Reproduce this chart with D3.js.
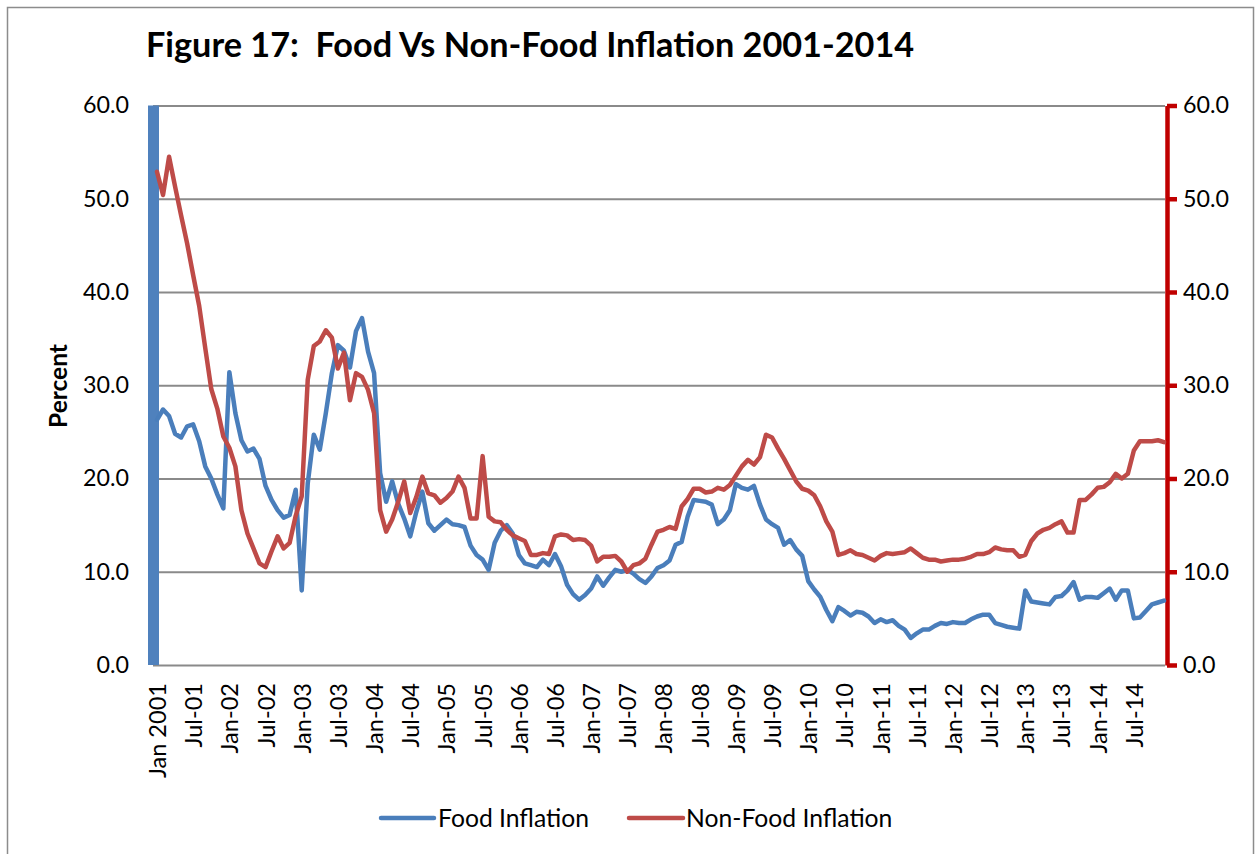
<!DOCTYPE html>
<html><head><meta charset="utf-8">
<script src="https://cdn.jsdelivr.net/npm/d3@7"></script>
<style>body{margin:0;background:#fff}svg{display:block}</style>
</head><body><svg id="chart" width="1255" height="854"></svg>
<script>
const xLabels = ["Jan 2001","Jul-01","Jan-02","Jul-02","Jan-03","Jul-03","Jan-04","Jul-04","Jan-05","Jul-05","Jan-06","Jul-06","Jan-07","Jul-07","Jan-08","Jul-08","Jan-09","Jul-09","Jan-10","Jul-10","Jan-11","Jul-11","Jan-12","Jul-12","Jan-13","Jul-13","Jan-14","Jul-14"];
const labelMonthIndex = [0,6,12,18,24,30,36,42,48,54,60,66,72,78,84,90,96,102,108,114,120,126,132,138,144,150,156,162];
const yTicks = [0,10,20,30,40,50,60];
const seriesNames = ["Food Inflation","Non-Food Inflation"];
const foodInflation = [
26.3,27.4,26.7,24.8,24.4,25.6,25.8,24.0,21.3,20.0,18.3,16.8,
31.4,27.0,24.1,22.9,23.2,22.1,19.2,17.7,16.6,15.8,16.1,18.8,
8.0,19.5,24.7,23.1,27.0,31.3,34.3,33.7,31.9,35.8,37.2,33.6,
31.3,20.6,17.5,19.7,17.3,15.7,13.8,16.4,18.6,15.2,14.4,15.0,
15.6,15.1,15.0,14.8,12.8,11.8,11.3,10.2,13.1,14.4,15.0,14.1,
11.8,10.9,10.7,10.5,11.3,10.7,11.9,10.6,8.6,7.6,7.0,7.5,
8.2,9.5,8.5,9.4,10.2,10.0,10.2,9.8,9.2,8.8,9.5,10.4,
10.7,11.2,12.9,13.2,15.9,17.7,17.6,17.5,17.2,15.1,15.6,16.6,
19.4,19.0,18.8,19.2,17.2,15.6,15.1,14.7,12.9,13.4,12.4,11.7,
9.0,8.1,7.3,5.9,4.7,6.2,5.8,5.3,5.7,5.6,5.2,4.5,
4.9,4.6,4.8,4.2,3.8,2.9,3.4,3.8,3.8,4.2,4.5,4.4,
4.6,4.5,4.5,4.9,5.2,5.4,5.4,4.5,4.3,4.1,4.0,3.9,
8.0,6.8,6.7,6.6,6.5,7.3,7.4,8.0,8.9,7.0,7.3,7.3,
7.2,7.7,8.2,7.0,8.0,8.0,5.0,5.1,5.8,6.5,6.7,6.9];
const nonFoodInflation = [
52.9,50.4,54.5,51.3,48.2,45.2,41.8,38.5,34.0,29.6,27.5,24.5,
23.3,21.3,16.6,14.1,12.5,10.9,10.5,12.2,13.8,12.5,13.1,16.0,
18.1,30.6,34.2,34.7,35.9,35.1,31.8,33.5,28.4,31.3,30.9,29.5,
27.0,16.6,14.3,15.6,17.5,19.7,16.3,18.0,20.2,18.4,18.2,17.4,
17.9,18.6,20.2,19.0,15.7,15.7,22.4,15.9,15.4,15.3,14.5,13.9,
13.6,13.3,11.8,11.8,12.0,11.9,13.8,14.0,13.9,13.4,13.5,13.4,
12.8,11.1,11.6,11.6,11.7,11.1,10.0,10.7,10.9,11.4,12.9,14.3,
14.5,14.8,14.6,17.0,17.8,18.9,18.9,18.5,18.6,19.0,18.8,19.3,
20.3,21.3,22.0,21.5,22.3,24.7,24.4,23.2,22.1,20.9,19.7,18.9,
18.7,18.2,17.0,15.4,14.3,11.8,12.0,12.3,11.9,11.8,11.5,11.2,
11.7,12.0,11.9,12.0,12.1,12.5,12.0,11.5,11.3,11.3,11.1,11.2,
11.3,11.3,11.4,11.6,11.9,11.9,12.1,12.6,12.4,12.3,12.3,11.6,
11.8,13.3,14.1,14.5,14.7,15.1,15.4,14.2,14.2,17.7,17.7,18.3,
19.0,19.1,19.6,20.5,20.0,20.5,23.0,24.0,24.0,24.0,24.1,23.9];

const FONT = "Lato, 'Open Sans', sans-serif";
const BLUE = "#4A7EBB", RED = "#BE4B48", AXISRED = "#C00000", GRID = "#8a8a8a";
const svg = d3.select("#chart");

function fitSize(text, weight, target) {
  const t = svg.append("text").attr("font-family", FONT).attr("font-weight", weight)
    .attr("font-size", 100).text(text);
  const w = t.node().getComputedTextLength(); t.remove();
  return 100 * target / w;
}
const tickFs = fitSize("60.0", "normal", 46);
const xFs = fitSize("Jan 2001", "normal", 95);
const legFs = fitSize("Food Inflation", "normal", 151);
const titleFs = fitSize("Figure 17:  Food Vs Non-Food Inflation 2001-2014", "bold", 760);
const pctFs = fitSize("Percent", "bold", 84);

// outer border
svg.append("rect").attr("x", 7.5).attr("y", 7.5).attr("width", 1246).attr("height", 860)
  .attr("fill", "none").attr("stroke", "#8c8c8c").attr("stroke-width", 1.5);

const x = d3.scaleLinear().domain([0, foodInflation.length - 1]).range([157, 1164]);
const y = d3.scaleLinear().domain([0, 60]).range([665, 105.5]);
const plotL = 153, plotR = 1165;

// gridlines
svg.append("g").attr("transform", `translate(${plotL},0)`)
  .call(d3.axisLeft(y).tickValues(yTicks).tickSize(-(plotR - plotL)).tickFormat(""))
  .call(g => g.select(".domain").remove())
  .call(g => g.selectAll("line").attr("stroke", GRID).attr("stroke-width", 2));

// left axis labels
svg.append("g").attr("transform", `translate(${plotL},0)`)
  .call(d3.axisLeft(y).tickValues(yTicks).tickSize(0).tickPadding(24).tickFormat(d3.format(".1f")))
  .call(g => g.select(".domain").remove())
  .call(g => g.selectAll("text").attr("font-family", FONT).attr("font-size", tickFs).attr("fill", "#000"));

// thick blue left axis bar
svg.append("line").attr("x1", 153.5).attr("x2", 153.5).attr("y1", y(60)).attr("y2", y(0))
  .attr("stroke", "#4F81BD").attr("stroke-width", 11);

// right axis (red)
svg.append("g").attr("transform", `translate(1167,0)`)
  .call(d3.axisRight(y).tickValues(yTicks).tickSize(10).tickSizeOuter(0).tickPadding(6).tickFormat(d3.format(".1f")))
  .call(g => g.select(".domain").attr("stroke", AXISRED).attr("stroke-width", 4.5))
  .call(g => g.selectAll("line").attr("stroke", AXISRED).attr("stroke-width", 4.5))
  .call(g => g.selectAll("text").attr("font-family", FONT).attr("font-size", tickFs).attr("fill", "#000"));

// bottom axis labels
svg.append("g").attr("transform", `translate(0,${y(0)})`)
  .call(d3.axisBottom(x).tickValues(labelMonthIndex).tickSize(0).tickFormat((d, i) => xLabels[i]))
  .call(g => g.select(".domain").remove())
  .call(g => g.selectAll("text")
    .attr("font-family", FONT).attr("font-size", xFs).attr("fill", "#000")
    .attr("transform", "rotate(-90)").attr("text-anchor", "end")
    .attr("x", -18).attr("y", 0).attr("dy", "0.36em"));

// lines
const line = d3.line().x((d, i) => x(i)).y(d => y(d)).curve(d3.curveLinear);
svg.append("path").datum(foodInflation).attr("d", line).attr("fill", "none")
  .attr("stroke", BLUE).attr("stroke-width", 4.5).attr("stroke-linejoin", "round").attr("stroke-linecap", "round");
svg.append("path").datum(nonFoodInflation).attr("d", line).attr("fill", "none")
  .attr("stroke", RED).attr("stroke-width", 4.5).attr("stroke-linejoin", "round").attr("stroke-linecap", "round");

// title
svg.append("text").attr("x", 146).attr("y", 57).attr("font-family", FONT).attr("font-weight", "bold")
  .attr("font-size", titleFs).attr("fill", "#000").text("Figure 17:  Food Vs Non-Food Inflation 2001-2014")
  .attr("xml:space", "preserve").style("white-space", "pre");

// y axis title
svg.append("text").attr("transform", "translate(67,386) rotate(-90)").attr("text-anchor", "middle")
  .attr("font-family", FONT).attr("font-weight", "bold").attr("font-size", pctFs).attr("fill", "#000").text("Percent");

// legend
const legend = [
  {name: seriesNames[0], color: BLUE, x1: 381, x2: 434, tx: 438},
  {name: seriesNames[1], color: RED, x1: 629, x2: 683, tx: 686}
];
const lg = svg.append("g");
legend.forEach(l => {
  lg.append("line").attr("x1", l.x1).attr("x2", l.x2).attr("y1", 818).attr("y2", 818)
    .attr("stroke", l.color).attr("stroke-width", 4.5).attr("stroke-linecap", "round");
  lg.append("text").attr("x", l.tx).attr("y", 818).attr("dy", "0.36em").attr("font-family", FONT)
    .attr("font-size", legFs).attr("fill", "#000").text(l.name);
});
</script></body></html>
